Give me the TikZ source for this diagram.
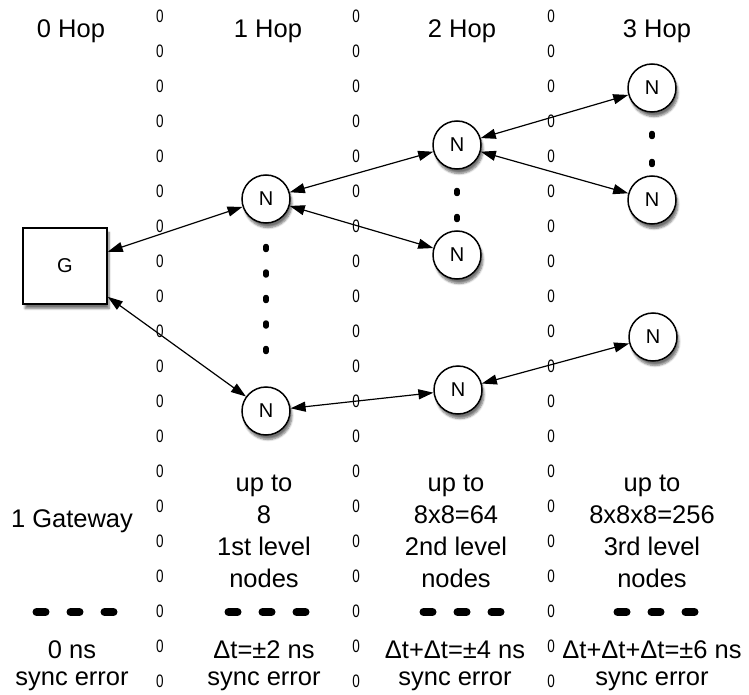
\documentclass[tikz,border=0pt]{standalone}
\usepackage{fontspec}
\setmainfont{Liberation Sans}
\newfontfamily\narrowfont[FakeStretch=0.75]{Liberation Sans}
\usetikzlibrary{arrows.meta,shadows.blur}
\begin{document}
\begin{tikzpicture}[x=1pt,y=-1pt,>={Triangle[length=15pt,width=10pt]},
  hop/.style={circle,draw,line width=1.5pt,fill=white,minimum size=48pt,inner sep=0pt,
    font=\fontsize{20}{20}\selectfont,
    blur shadow={shadow xshift=2pt,shadow yshift=-4.5pt,shadow blur steps=6,shadow opacity=55}},
  gate/.style={hop,rectangle,minimum width=84pt,minimum height=76pt},
  link/.style={<->,line width=1.2pt},
  txt/.style={align=center,anchor=base,font=\fontsize{25.5}{32}\selectfont},
  err/.style={txt,font=\fontsize{25.5}{27}\selectfont},
  sep/.style={font=\narrowfont\fontsize{18}{18}\selectfont},
  vdot/.style={line width=5.5pt,line cap=round},
  hdot/.style={line width=8pt,line cap=round}]
\useasboundingbox (0,0) rectangle (749,695);
% hop headers
\node[txt] (h0) at (71,38) {0 Hop};
\node[txt] (h1) at (268,38) {1 Hop};
\node[txt] (h2) at (462,38) {2 Hop};
\node[txt] (h3) at (657,38) {3 Hop};
% gateway and nodes
\node[gate] (g) at (65,266) {G};
\node[hop] (n1a) at (266,199) {N};
\node[hop] (n1b) at (266,411) {N};
\node[hop] (n2a) at (457,145) {N};
\node[hop] (n2b) at (457,255) {N};
\node[hop] (n2c) at (458,390) {N};
\node[hop] (n3a) at (652,88) {N};
\node[hop] (n3b) at (652,200) {N};
\node[hop] (n3c) at (653,337) {N};
\draw[link] (g)--(n1a);
\draw[link] (g)--(n1b);
\draw[link] (n1a)--(n2a);
\draw[link] (n1a)--(n2b);
\draw[link] (n1b)--(n2c);
\draw[link] (n2a)--(n3a);
\draw[link] (n2a)--(n3b);
\draw[link] (n2c)--(n3c);
\foreach \y in {248,273.5,299,324.5,350} \draw[vdot] (266,\y-1.5)--(266,\y+1.5);
\foreach \y in {192,218} \draw[vdot] (457,\y-1.5)--(457,\y+1.5);
\foreach \y in {135,163} \draw[vdot] (652,\y-1.5)--(652,\y+1.5);
% column separators
\foreach \x in {160,356,551}
  \foreach \i in {0,...,19}
    \node[sep] at (\x,16+35*\i) {0};
% counts and sync error (base is the last line)
\node[txt] (c0) at (72,527) {1 Gateway};
\node[txt] (c1) at (264,587) {up to\\8\\1st level\\nodes};
\node[txt] (c2) at (456,587) {up to\\8x8=64\\2nd level\\nodes};
\node[txt] (c3) at (652,587) {up to\\8x8x8=256\\3rd level\\nodes};
\foreach \c in {75,267,462,656}
  \foreach \d in {-34,0,34}
    \draw[hdot] (\c+\d-4.5,612)--(\c+\d+4.5,612);
\node[err] (e0) at (72,685) {0 ns\\sync error};
\node[err] (e1) at (264,685) {Δt=±2 ns\\sync error};
\node[err] (e2) at (455,685) {Δt+Δt=±4 ns\\sync error};
\node[err] (e3) at (652,685) {Δt+Δt+Δt=±6 ns\\sync error};
\end{tikzpicture}
\end{document}
